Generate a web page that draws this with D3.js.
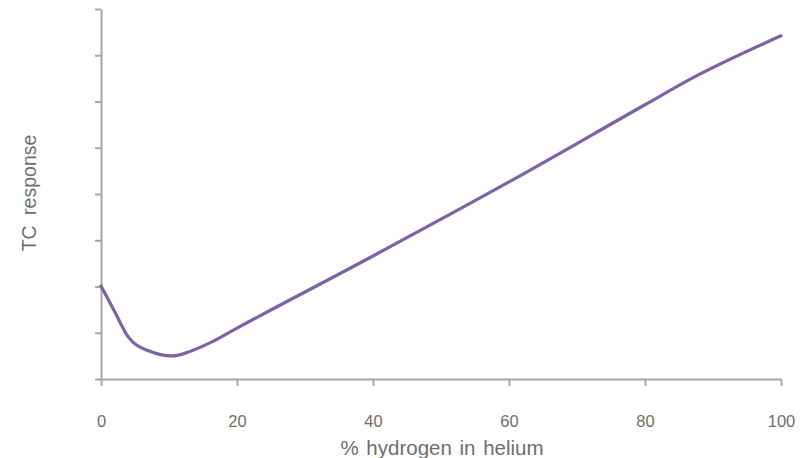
<!DOCTYPE html>
<html>
<head>
<meta charset="utf-8">
<script src="https://cdn.jsdelivr.net/npm/d3@7"></script>
<style>
  body { margin: 0; background: #fff; }
  text { font-family: "Liberation Sans", Arial, sans-serif; fill: #6e6e6e; }
</style>
</head>
<body>
<div id="chart"></div>
<script>
// % hydrogen in helium vs thermal conductivity detector response (unitless)
const hydrogenPct = [0, 2, 4, 7, 10.5, 13, 16, 20, 40, 60, 80, 87, 100]
const tcResponse  = [2.01, 1.46, 0.91, 0.61, 0.50, 0.59, 0.78, 1.10, 2.66, 4.26, 5.93, 6.51, 7.42]
const xTicks = [0, 20, 40, 60, 80, 100]
const yTicks = [0, 1, 2, 3, 4, 5, 6, 7, 8]

const width = 809
const height = 458
const margin = {top: 9, right: 28, bottom: 79, left: 101}

const svg = d3.select("#chart").append("svg")
    .attr("width", width)
    .attr("height", height)

const x = d3.scaleLinear().domain([0, 100]).range([margin.left, width - margin.right])
const y = d3.scaleLinear().domain([0, 8]).range([height - margin.bottom, margin.top])

// x axis
const xAxis = svg.append("g")
    .attr("transform", "translate(0," + y(0) + ")")
    .call(d3.axisBottom(x).tickValues(xTicks).tickSize(7).tickSizeOuter(0).tickPadding(29))
xAxis.selectAll("line, path").attr("stroke", "#a6a6a6").attr("stroke-width", 2)
xAxis.selectAll("text").attr("font-size", 16.5).style("fill", "#6e6e6e")

// y axis, no labels
const yAxis = svg.append("g")
    .attr("transform", "translate(" + x(0) + ",0)")
    .call(d3.axisLeft(y).tickValues(yTicks).tickSize(6).tickSizeOuter(0).tickFormat(""))
yAxis.selectAll("line, path").attr("stroke", "#a6a6a6").attr("stroke-width", 2)

const line = d3.line()
    .x((d, i) => x(hydrogenPct[i]))
    .y(d => y(d))
    .curve(d3.curveMonotoneX)

svg.append("path")
    .datum(tcResponse)
    .attr("d", line)
    .attr("fill", "none")
    .attr("stroke", "#7d62a6")
    .attr("stroke-width", 3.2)
    .attr("stroke-linecap", "round")

svg.append("text")
    .attr("x", 442)
    .attr("y", 455)
    .attr("text-anchor", "middle")
    .attr("font-size", 20.5)
    .attr("word-spacing", 2)
    .text("% hydrogen in helium")

svg.append("text")
    .attr("transform", "translate(35.5,193) rotate(-90)")
    .attr("text-anchor", "middle")
    .attr("font-size", 19.5)
    .attr("word-spacing", 5)
    .text("TC response")
</script>
</body>
</html>
